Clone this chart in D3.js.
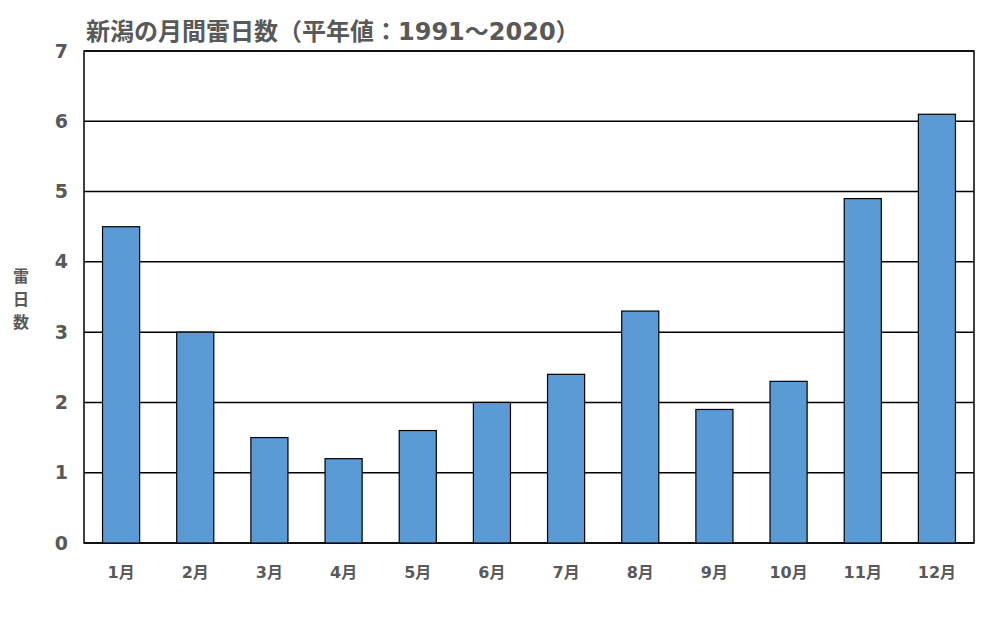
<!DOCTYPE html>
<html><head><meta charset="utf-8">
<script src="https://cdn.jsdelivr.net/npm/d3@7"></script>
<style>body{margin:0;background:#fff}</style>
</head><body>
<svg id="chart" width="998" height="625"></svg>
<script>
// data
const months = ["1月","2月","3月","4月","5月","6月","7月","8月","9月","10月","11月","12月"];
const thunderDays = [4.5, 3.0, 1.5, 1.2, 1.6, 2.0, 2.4, 3.3, 1.9, 2.3, 4.9, 6.1];
const yTicks = [0, 1, 2, 3, 4, 5, 6, 7];

const font = "'DejaVu Sans', 'Noto Sans CJK JP', sans-serif";
const grey = "#595959";
const svg = d3.select("#chart");
const m = {left: 84, right: 974, top: 51, bottom: 543};

const x = d3.scaleBand().domain(months).range([m.left, m.right]).paddingInner(0.5).paddingOuter(0.25);
const y = d3.scaleLinear().domain([0, 7]).range([m.bottom, m.top]);

// gridlines
svg.append("g").selectAll("line").data(yTicks).join("line")
  .attr("x1", m.left).attr("x2", m.right)
  .attr("y1", d => y(d)).attr("y2", d => y(d))
  .attr("stroke", "#000").attr("stroke-width", 1.5);

svg.append("rect").attr("x", m.left).attr("y", m.top)
  .attr("width", m.right - m.left).attr("height", m.bottom - m.top)
  .attr("fill", "none").attr("stroke", "#000").attr("stroke-width", 1.5);

// bars
svg.append("g").selectAll("rect").data(thunderDays).join("rect")
  .attr("x", (d, i) => x(months[i]))
  .attr("y", d => y(d))
  .attr("width", x.bandwidth())
  .attr("height", d => y(0) - y(d))
  .attr("fill", "#5B9BD5").attr("stroke", "#000").attr("stroke-width", 1.2);

// axes
const yAxis = svg.append("g").attr("transform", `translate(${m.left},0)`)
  .call(d3.axisLeft(y).tickValues(yTicks).tickFormat(d3.format("d")).tickSize(0).tickPadding(16));
const xAxis = svg.append("g").attr("transform", `translate(0,${m.bottom})`)
  .call(d3.axisBottom(x).tickSize(0).tickPadding(24));
[yAxis, xAxis].forEach(a => {
  a.select(".domain").remove();
  a.selectAll("text").attr("fill", grey).style("font-family", font)
    .style("font-weight", "bold").style("font-size", "16px");
});
yAxis.selectAll("text").style("font-size", "19px");

// y label, stacked vertically
svg.append("text").attr("fill", grey).style("font-family", font)
  .style("font-weight", "bold").style("font-size", "16px").attr("text-anchor", "middle")
  .selectAll("tspan").data(["雷", "日", "数"]).join("tspan")
  .attr("x", 21).attr("y", (d, i) => 282 + i * 23).text(d => d);

// title
svg.append("text").attr("x", 86).attr("y", 40)
  .attr("fill", grey).style("font-family", font)
  .style("font-weight", "bold").style("font-size", "24px")
  .text("新潟の月間雷日数（平年値：1991～2020）");
</script>
</body></html>
